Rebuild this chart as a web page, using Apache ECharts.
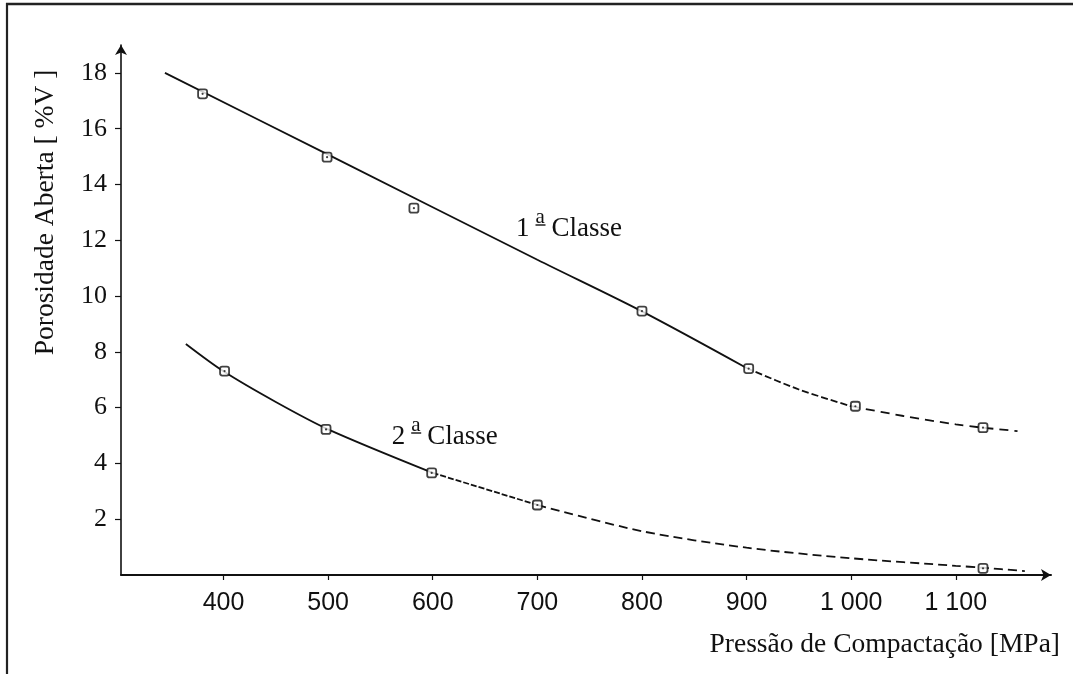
<!DOCTYPE html>
<html><head><meta charset="utf-8">
<script src="https://cdn.jsdelivr.net/npm/echarts@6/dist/echarts.min.js"></script>
<style>html,body{margin:0;padding:0;background:#fff}#c{width:1073px;height:674px}</style>
</head><body><div id="c"></div>
<script>
// ---- data ----
const xTickValues = [400, 500, 600, 700, 800, 900, 1000, 1100];
const yTickValues = [2, 4, 6, 8, 10, 12, 14, 16, 18];
const class1Pressure = [380, 499, 582, 800, 902, 1004, 1126];
const class1Porosity = [17.25, 14.98, 13.15, 9.46, 7.4, 6.05, 5.28];
const class2Pressure = [401, 498, 599, 700, 1126];
const class2Porosity = [7.31, 5.22, 3.66, 2.51, 0.24];
const class1CurvePressure = [344, 500, 700, 800, 900, 950, 1000, 1050, 1100, 1126, 1159];
const class1CurvePorosity = [18.0, 15.07, 11.3, 9.45, 7.42, 6.65, 6.05, 5.7, 5.4, 5.28, 5.16];
const class2CurvePressure = [364, 400, 450, 500, 600, 700, 800, 900, 1000, 1100, 1126, 1166];
const class2CurvePorosity = [8.28, 7.3, 6.2, 5.22, 3.66, 2.51, 1.57, 0.98, 0.6, 0.33, 0.26, 0.14];
const curveLabelDigits = ['1', '2'];
const curveLabelSup = 'a';
const curveLabelWord = 'Classe';
const xAxisName = 'Pressão de Compactação [MPa]';
const yAxisName = 'Porosidade Aberta [ %V ]';

// ---- build ----
function pairs(xs, ys, from, to) {
  const out = [];
  for (let i = from; i <= to; i++) out.push([xs[i], ys[i]]);
  return out;
}
const SERIF = '"Liberation Serif", "Times New Roman", serif';
const INK = '#111';

function lineSeg(data, dash) {
  return {
    type: 'line', data: data, smooth: 0.3,
    showSymbol: false, silent: true, z: 2,
    lineStyle: { color: INK, width: 1.8, type: dash }
  };
}
function markerSeries(xs, ys) {
  const d = xs.map((x, i) => [x, ys[i]]);
  return [
    { type: 'scatter', data: d, symbol: 'roundRect', symbolSize: 9, z: 3, silent: true,
      itemStyle: { color: '#fff', borderColor: INK, borderWidth: 1.8 } },
    { type: 'scatter', data: d, symbol: 'circle', symbolSize: 2.2, z: 4, silent: true,
      itemStyle: { color: INK } }
  ];
}
function curveLabel(digit, L, C) {
  return [
    { type: 'text', x: L, y: C, z: 10, style: { text: digit, font: '27px ' + SERIF, fill: INK, align: 'left', verticalAlign: 'middle' } },
    { type: 'text', x: L + 19.5, y: C - 12, z: 10, style: { text: curveLabelSup, font: '21px ' + SERIF, fill: INK, align: 'left', verticalAlign: 'middle' } },
    { type: 'line', z: 10, shape: { x1: L + 19.5, y1: C - 4, x2: L + 29.5, y2: C - 4 }, style: { stroke: INK, lineWidth: 1.4 } },
    { type: 'text', x: L + 35.6, y: C, z: 10, style: { text: curveLabelWord, font: '27px ' + SERIF, fill: INK, align: 'left', verticalAlign: 'middle' } }
  ];
}

const chart = echarts.init(document.getElementById('c'), null, { renderer: 'canvas' });
const option = {
  animation: false,
  backgroundColor: '#fff',
  grid: { left: 121, right: 22, top: 45, bottom: 99, containLabel: false },
  xAxis: {
    type: 'value', min: 302, max: 1191,
    splitLine: { show: false },
    axisLine: { show: true, onZero: false, symbol: ['none', 'arrow'], symbolSize: [9, 10],
      lineStyle: { color: INK, width: 2 } },
    axisTick: { show: true, customValues: xTickValues, length: 5, inside: false, lineStyle: { color: INK, width: 1.2 } },
    axisLabel: { customValues: xTickValues, margin: 16, color: INK,
      fontFamily: '"Liberation Sans", Arial, sans-serif', fontSize: 25,
      formatter: v => v >= 1000 ? Math.floor(v / 1000) + ' ' + String(v % 1000).padStart(3, '0') : String(v) }
  },
  yAxis: {
    type: 'value', min: 0, max: 19,
    splitLine: { show: false },
    axisLine: { show: true, onZero: false, symbol: ['none', 'arrow'], symbolSize: [9, 10],
      lineStyle: { color: INK, width: 1.6 } },
    axisTick: { show: true, customValues: yTickValues, length: 6, lineStyle: { color: INK, width: 1.2 } },
    axisLabel: { customValues: yTickValues, margin: 14, color: INK, fontFamily: SERIF, fontSize: 26 }
  },
  series: [
    lineSeg(pairs(class1CurvePressure, class1CurvePorosity, 0, 4), 'solid'),
    lineSeg(pairs(class1CurvePressure, class1CurvePorosity, 4, 6), [7, 3]),
    lineSeg(pairs(class1CurvePressure, class1CurvePorosity, 6, class1CurvePressure.length - 1), [9, 6]),
    lineSeg(pairs(class2CurvePressure, class2CurvePorosity, 0, 4), 'solid'),
    lineSeg(pairs(class2CurvePressure, class2CurvePorosity, 4, 5), [6, 2]),
    lineSeg(pairs(class2CurvePressure, class2CurvePorosity, 5, class2CurvePressure.length - 1), [9, 5]),
    ...markerSeries(class1Pressure, class1Porosity),
    ...markerSeries(class2Pressure, class2Porosity)
  ],
  graphic: [
    { type: 'line', shape: { x1: 7, y1: 3, x2: 7, y2: 674 }, style: { stroke: '#222', lineWidth: 2.2 } },
    { type: 'line', shape: { x1: 6, y1: 4, x2: 1073, y2: 4 }, style: { stroke: '#222', lineWidth: 2.5 } },
    { type: 'text', x: 46, y: 212.5, rotation: Math.PI / 2,
      style: { text: yAxisName, font: '27.5px ' + SERIF, fill: INK, align: 'center', verticalAlign: 'middle' } },
    { type: 'text', x: 1060, y: 645,
      style: { text: xAxisName, font: '27.5px ' + SERIF, fill: INK, align: 'right', verticalAlign: 'middle' } },
    ...curveLabel(curveLabelDigits[0], 516, 229),
    ...curveLabel(curveLabelDigits[1], 391.7, 437)
  ]
};
chart.setOption(option);
</script>
</body></html>
